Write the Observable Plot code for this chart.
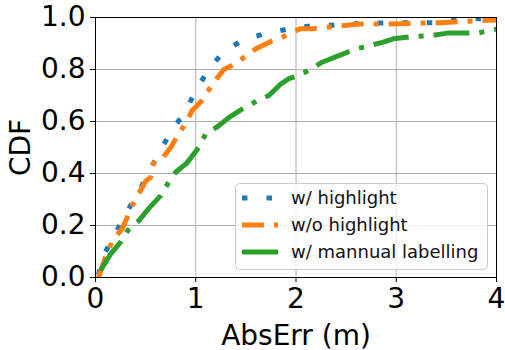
<!DOCTYPE html>
<html>
<head>
<meta charset="utf-8">
<script src="https://cdn.jsdelivr.net/npm/d3@7"></script>
<script src="https://cdn.jsdelivr.net/npm/@observablehq/plot@0.6"></script>
<style>
  html, body { margin: 0; padding: 0; background: white; }
  #chart { position: relative; width: 505px; height: 350px; }
</style>
</head>
<body>
<div id="chart"></div>
<script>
// ---- data ----
const seriesNames = ["w/ highlight", "w/o highlight", "w/ mannual labelling"];
const seriesColors = ["#1f77b4", "#ff7f0e", "#2ca02c"];
const seriesDash = ["5.5,19", "22,10,5,10", "36,10,5,10"];

const highlightX = [0.03, 0.07, 0.20, 0.30, 0.42, 0.53, 0.65, 0.76, 0.90, 1.00, 1.13, 1.28, 1.48, 1.71, 1.94, 2.18, 2.41, 2.65, 3.00, 3.37, 3.60, 4.00];
const highlightY = [0.01, 0.078, 0.17, 0.245, 0.32, 0.405, 0.49, 0.565, 0.64, 0.72, 0.80, 0.87, 0.915, 0.94, 0.957, 0.97, 0.97, 0.978, 0.98, 0.98, 0.99, 1.00];

const noHighlightX = [0.03, 0.10, 0.17, 0.27, 0.37, 0.50, 0.55, 0.58, 0.65, 0.75, 0.81, 0.91, 0.96, 1.06, 1.18, 1.28, 1.36, 1.51, 1.60, 1.76, 1.86, 2.04, 2.16, 2.64, 2.91, 3.44, 3.94, 4.00];
const noHighlightY = [0.00, 0.08, 0.14, 0.19, 0.28, 0.37, 0.385, 0.44, 0.45, 0.50, 0.54, 0.60, 0.64, 0.68, 0.75, 0.80, 0.815, 0.854, 0.88, 0.91, 0.924, 0.957, 0.957, 0.975, 0.975, 0.98, 0.99, 0.99];

const manualX = [0.05, 0.15, 0.25, 0.32, 0.435, 0.53, 0.65, 0.72, 0.80, 0.91, 1.03, 1.10, 1.21, 1.33, 1.45, 1.55, 1.61, 1.73, 1.85, 1.93, 2.03, 2.14, 2.26, 2.44, 2.59, 2.72, 2.87, 2.97, 3.17, 3.34, 3.51, 3.81, 3.97, 4.00];
const manualY = [0.027, 0.09, 0.136, 0.18, 0.22, 0.265, 0.315, 0.36, 0.405, 0.44, 0.50, 0.553, 0.578, 0.615, 0.645, 0.665, 0.68, 0.70, 0.745, 0.765, 0.777, 0.80, 0.828, 0.855, 0.879, 0.89, 0.905, 0.918, 0.927, 0.93, 0.94, 0.94, 0.953, 0.955];

const xTicks = [0, 1, 2, 3, 4];
const yTicks = [0, 0.2, 0.4, 0.6, 0.8, 1.0];
const xLabel = "AbsErr (m)";
const yLabel = "CDF";

// ---- build ----
const toRows = (xs, ys) => xs.map((x, i) => ({x, y: ys[i]}));
const series = [toRows(highlightX, highlightY), toRows(noHighlightX, noHighlightY), toRows(manualX, manualY)];

const font = "DejaVu Sans, sans-serif";

const chart = Plot.plot({
  width: 505,
  height: 350,
  marginLeft: 95,
  marginRight: 9,
  marginTop: 17,
  marginBottom: 73,
  style: {fontFamily: font, background: "white", color: "black", overflow: "visible"},
  x: {domain: [0, 4]},
  y: {domain: [0, 1]},
  marks: [
    Plot.gridX(xTicks, {stroke: "#b0b0b0", strokeOpacity: 1, strokeWidth: 1}),
    Plot.gridY(yTicks, {stroke: "#b0b0b0", strokeOpacity: 1, strokeWidth: 1}),
    ...series.map((rows, i) => Plot.line(rows, {
      x: "x", y: "y",
      stroke: seriesColors[i],
      strokeWidth: 5,
      strokeDasharray: seriesDash[i],
      strokeLinecap: "butt",
      strokeLinejoin: "round",
      clip: true
    })),
    Plot.frame({stroke: "black", strokeWidth: 1}),
    Plot.axisX(xTicks, {
      fontSize: 28, tickSize: 5, tickPadding: 6,
      tickFormat: d => String(d),
      label: xLabel, labelAnchor: "center", labelArrow: "none", labelOffset: 67
    }),
    Plot.axisY(yTicks, {
      fontSize: 28, tickSize: 5, tickPadding: 5,
      tickFormat: d => d.toFixed(1),
      label: yLabel, labelAnchor: "center", labelArrow: "none", labelOffset: 85
    })
  ]
});

document.getElementById("chart").appendChild(chart);

// ---- legend (inside the axes, lower right) ----
const svg = d3.select(chart);
const lg = svg.append("g").attr("font-family", font).attr("text-anchor", "start");
lg.append("rect")
  .attr("x", 235.5).attr("y", 183.5).attr("width", 252).attr("height", 86)
  .attr("rx", 4).attr("ry", 4)
  .attr("fill", "white").attr("fill-opacity", 0.8)
  .attr("stroke", "#cccccc").attr("stroke-width", 1);
seriesNames.forEach((name, i) => {
  const cy = 198 + i * 27;
  lg.append("line")
    .attr("x1", 242).attr("x2", 278).attr("y1", cy).attr("y2", cy)
    .attr("stroke", seriesColors[i]).attr("stroke-width", 5)
    .attr("stroke-dasharray", seriesDash[i]).attr("stroke-linecap", "butt");
  lg.append("text")
    .attr("x", 291).attr("y", cy).attr("dy", "0.36em")
    .attr("text-anchor", "start")
    .attr("font-size", 18).attr("fill", "#111")
    .text(name);
});
</script>
</body>
</html>
